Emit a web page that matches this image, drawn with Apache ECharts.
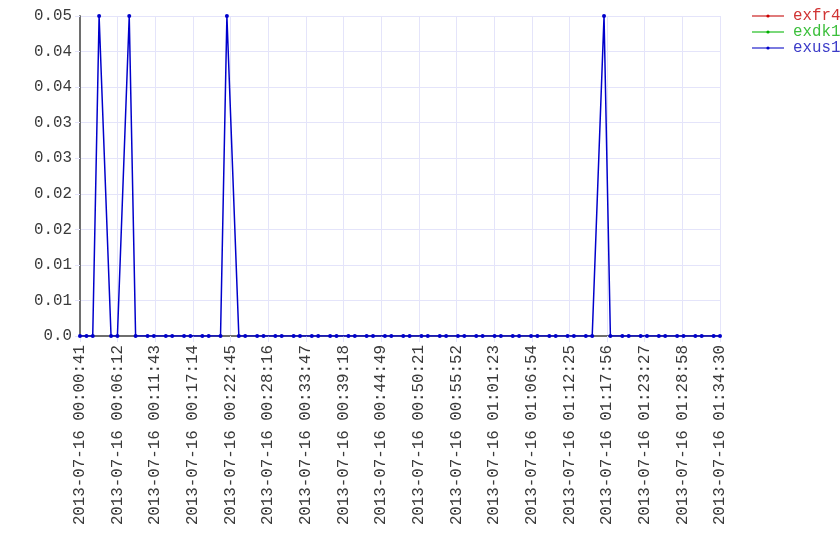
<!DOCTYPE html>
<html>
<head>
<meta charset="utf-8">
<script src="https://cdn.jsdelivr.net/npm/echarts@6/dist/echarts.min.js"></script>
<style>
  html, body { margin: 0; padding: 0; background: #fff; }
  #chart { width: 840px; height: 560px; }
</style>
</head>
<body>
<div id="chart"></div>
<script>
var day = "2013-07-16";

// sample times
var times = [
  "00:00:41","00:01:38","00:02:33","00:03:29","00:05:14","00:06:10","00:07:54","00:08:50","00:10:35","00:11:31","00:13:16","00:14:12",
  "00:15:56","00:16:52","00:18:37","00:19:33","00:21:17","00:22:13","00:23:58","00:24:54","00:26:39","00:27:35","00:29:19","00:30:15",
  "00:32:00","00:32:56","00:34:40","00:35:36","00:37:21","00:38:17","00:40:02","00:40:58","00:42:42","00:43:38","00:45:23","00:46:19",
  "00:48:04","00:49:00","00:50:44","00:51:40","00:53:25","00:54:21","00:56:05","00:57:01","00:58:46","00:59:42","01:01:27","01:02:23",
  "01:04:07","01:05:03","01:06:48","01:07:44","01:09:29","01:10:25","01:12:09","01:13:05","01:14:50","01:15:46","01:17:30","01:18:26",
  "01:20:11","01:21:07","01:22:52","01:23:48","01:25:32","01:26:28","01:28:13","01:29:09","01:30:53","01:31:49","01:33:34","01:34:30"
];

var exus1 = [
  0, 0, 0, 0.045, 0, 0, 0.045, 0, 0, 0, 0, 0,
  0, 0, 0, 0, 0, 0.045, 0, 0, 0, 0, 0, 0,
  0, 0, 0, 0, 0, 0, 0, 0, 0, 0, 0, 0,
  0, 0, 0, 0, 0, 0, 0, 0, 0, 0, 0, 0,
  0, 0, 0, 0, 0, 0, 0, 0, 0, 0, 0.045, 0,
  0, 0, 0, 0, 0, 0, 0, 0, 0, 0, 0, 0
];
var exfr4 = [];
var exdk1 = [];

var xTickLabels = [
  "00:00:41","00:06:12","00:11:43","00:17:14","00:22:45","00:28:16",
  "00:33:47","00:39:18","00:44:49","00:50:21","00:55:52","01:01:23",
  "01:06:54","01:12:25","01:17:56","01:23:27","01:28:58","01:34:30"
];
var yTickLabels = ["0.0","0.01","0.01","0.02","0.02","0.03","0.03","0.04","0.04","0.05"];

function toSec(s) {
  var p = s.split(":");
  return (+p[0]) * 3600 + (+p[1]) * 60 + (+p[2]);
}

var t0 = toSec(times[0]);
var span = toSec(times[times.length - 1]) - t0;
var xStep = span / (xTickLabels.length - 1);
var yStep = 0.005;

var points = [];
for (var i = 0; i < times.length; i++) {
  points.push([toSec(times[i]) - t0, exus1[i]]);
}

var font = "Liberation Mono";
var fontSize = 15.8;
var gridColor = "#e4e4fa";

var myChart = echarts.init(document.getElementById("chart"));
var option = {
  animation: false,
  grid: { left: 80, right: 120, top: 16, bottom: 224 },
  legend: {
    orient: "vertical",
    left: 751,
    top: 8,
    padding: 0,
    itemWidth: 32,
    itemHeight: 4,
    itemGap: 0,
    textStyle: { fontFamily: font, fontSize: fontSize, lineHeight: 16, padding: [0, 0, 0, 4] },
    data: [
      { name: "exfr4", textStyle: { color: "#d03434" }, lineStyle: { color: "#e07a7a", width: 2 } },
      { name: "exdk1", textStyle: { color: "#3cbf3c" }, lineStyle: { color: "#7ad87a", width: 2 } },
      { name: "exus1", textStyle: { color: "#3c3cc8" }, lineStyle: { color: "#7a7ae0", width: 2 } }
    ]
  },
  xAxis: {
    type: "value",
    min: 0,
    max: span,
    interval: xStep,
    axisLine: { lineStyle: { color: "#6e6e6e", width: 2 } },
    axisTick: { show: true, length: 6, lineStyle: { color: gridColor } },
    splitLine: { show: true, lineStyle: { color: gridColor } },
    axisLabel: {
      rotate: 90,
      margin: 9,
      color: "#3a3a3a",
      fontFamily: font,
      fontSize: fontSize,
      formatter: function (v) {
        return day + " " + xTickLabels[Math.round(v / xStep)];
      }
    }
  },
  yAxis: {
    type: "value",
    min: 0,
    max: 0.045,
    interval: yStep,
    axisLine: { show: true, lineStyle: { color: "#6e6e6e", width: 2 } },
    axisTick: { show: true, length: 5, lineStyle: { color: gridColor } },
    splitLine: { show: true, lineStyle: { color: gridColor } },
    axisLabel: {
      margin: 8,
      color: "#3a3a3a",
      fontFamily: font,
      fontSize: fontSize,
      formatter: function (v) {
        return yTickLabels[Math.round(v / yStep)];
      }
    }
  },
  series: [
    {
      name: "exfr4", type: "line", data: exfr4, color: "#cc0000",
      symbol: "circle", symbolSize: 4, lineStyle: { width: 1.5 }
    },
    {
      name: "exdk1", type: "line", data: exdk1, color: "#00b000",
      symbol: "circle", symbolSize: 4, lineStyle: { width: 1.5 }
    },
    {
      name: "exus1", type: "line", data: points, color: "#0000cc",
      symbol: "circle", symbolSize: 4, showAllSymbol: true,
      lineStyle: { width: 1.5 }
    }
  ]
};
myChart.setOption(option);
</script>
</body>
</html>
